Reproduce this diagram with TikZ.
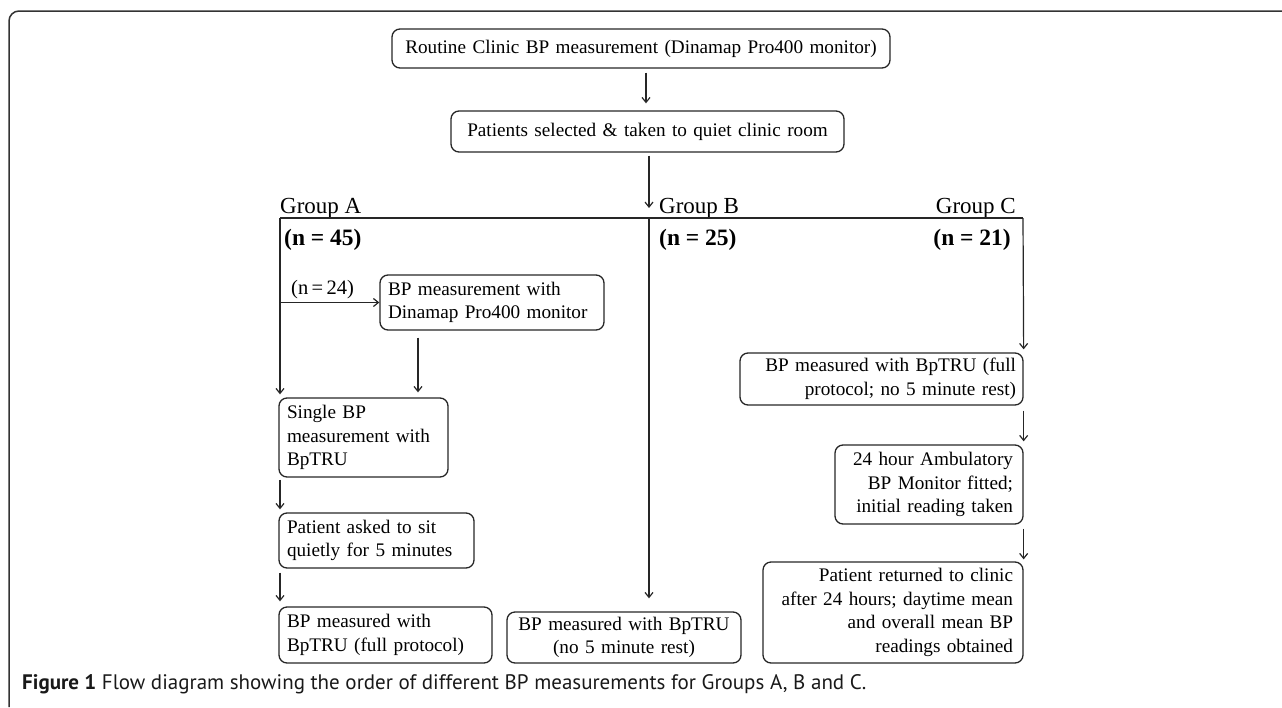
\documentclass[tikz,border=0pt]{standalone}
\usepackage{fontspec}
\setmainfont{Liberation Serif}
\newfontfamily\capfont{PT Sans}
\usetikzlibrary{arrows.meta,calc}
\hyphenpenalty=10000
\exhyphenpenalty=10000
\begin{document}
\begin{tikzpicture}[x=1pt,y=-1pt,
  box/.style={draw=black!85, rounded corners=8pt, line width=1.3pt, inner ysep=0pt,
     font=\fontsize{19.2}{23.5}\selectfont},
  conn/.style={draw=black!85, line width=1.2pt},
  arr/.style={conn, -{Straight Barb[length=5pt,width=8pt]}},
  lbl/.style={inner sep=0pt, font=\fontsize{23}{26}\selectfont},
  nlbl/.style={inner sep=0pt, font=\fontsize{23.5}{26}\selectfont\bfseries}
]
\useasboundingbox (0,0) rectangle (1282,707);
% outer frame
\draw[black!80, line width=1.5pt, rounded corners=10pt] (9,707) -- (9,11) -- (1282,11);

% boxes
\node[box, minimum width=498pt, minimum height=39pt, text width=490pt, inner xsep=4pt, align=center] (top) at (641,48.5)
  {Routine Clinic BP measurement (Dinamap Pro400 monitor)};
\node[box, minimum width=393pt, minimum height=41pt, text width=385pt, inner xsep=4pt, align=center] (sel) at (647.5,131.5)
  {Patients selected \& taken to quiet clinic room};
\node[box, minimum width=224pt, minimum height=55pt, text width=208pt, inner xsep=8pt, align=left] (dina) at (492,302.5)
  {BP measurement with\\Dinamap Pro400 monitor};
\node[box, minimum width=169pt, minimum height=79pt, text width=153pt, inner xsep=8pt, align=left] (single) at (363.5,437.5)
  {Single BP\\measurement with\\BpTRU};
\node[box, minimum width=195pt, minimum height=55pt, text width=179pt, inner xsep=8pt, align=left] (sit) at (376.5,540.5)
  {Patient asked to sit\\quietly for 5 minutes};
\node[box, minimum width=213pt, minimum height=56pt, text width=197pt, inner xsep=8pt, align=left] (fullA) at (385.5,635)
  {BP measured with\\BpTRU (full protocol)};
\node[box, minimum width=234pt, minimum height=51pt, text width=226pt, inner xsep=4pt, align=center] (boxB) at (624,637.5)
  {BP measured with BpTRU\\(no 5 minute rest)};
\node[box, minimum width=283pt, minimum height=52pt, text width=269pt, inner xsep=7pt, align=right] (c1) at (881.5,379)
  {BP measured with BpTRU (full\\protocol; no 5 minute rest)};
\node[box, minimum width=188pt, minimum height=79pt, text width=168pt, inner xsep=10pt, align=right] (c2) at (929,484.5)
  {24 hour Ambulatory\\BP Monitor fitted;\\initial reading taken};
\node[box, minimum width=260pt, minimum height=101pt, text width=240pt, inner xsep=10pt, align=right] (c3) at (893,612.5)
  {Patient returned to clinic\\after 24 hours; daytime mean\\and overall mean BP\\readings obtained};

% junction coordinates
\coordinate (jA) at (280,218);
\coordinate (jB) at (649,218);
\coordinate (jC) at (1023,218);
\coordinate (bA) at (280,302.5);
\coordinate (dx) at (418,0);
\coordinate (tx) at (646,0);

% labels
\node[lbl, anchor=base west] (gA) at (280,213) {Group A};
\node[lbl, anchor=base west] (gB) at (659,213) {Group B};
\node[lbl, anchor=base east] (gC) at (1016,213) {Group C};
\node[nlbl, anchor=base west] (nA) at (284,245) {(n = 45)};
\node[nlbl, anchor=base west] (nB) at (659,245) {(n = 25)};
\node[nlbl, anchor=base east] (nC) at (1011,245) {(n = 21)};
\node[inner sep=0pt, anchor=base west, font=\fontsize{20.5}{22}\selectfont] (n24) at (291,294) {(n\,=\,24)};

% connectors
\draw[arr] ([yshift=-4pt]top.south -| tx) -- ([yshift=7pt]sel.north -| tx);
\draw[arr] ([yshift=-3pt]sel.south -| jB) -- ([yshift=10pt]jB);
\draw[conn] (jA) -- (jC);
\draw[arr] (jA) -- ([yshift=3pt]single.north -| jA);
\draw[arr] (bA) -- (dina.west);
\draw[arr] ([yshift=-7pt]dina.south -| dx) -- ([yshift=5pt]single.north -| dx);
\draw[arr] ([yshift=-2pt]single.south -| jA) -- ([yshift=3pt]sit.north -| jA);
\draw[arr] ([yshift=-4pt]sit.south -| jA) -- ([yshift=5pt]fullA.north -| jA);
\draw[arr] (jB) -- ([yshift=13pt]boxB.north -| jB);
\draw[arr] (jC) -- ([yshift=3pt]c1.north east);
\draw[arr] ([yshift=-5pt]c1.south east) -- ([yshift=3pt]c2.north east);
\draw[arr] ([yshift=-4pt]c2.south east) -- ([yshift=2pt]c3.north east);

% caption
\node[inner sep=0pt, anchor=base west, text=black!90, font=\capfont\fontsize{21}{24}\selectfont] (cap) at (22,689)
  {\textbf{Figure 1} Flow diagram showing the order of different BP measurements for Groups A, B and C.};
\end{tikzpicture}
\end{document}
